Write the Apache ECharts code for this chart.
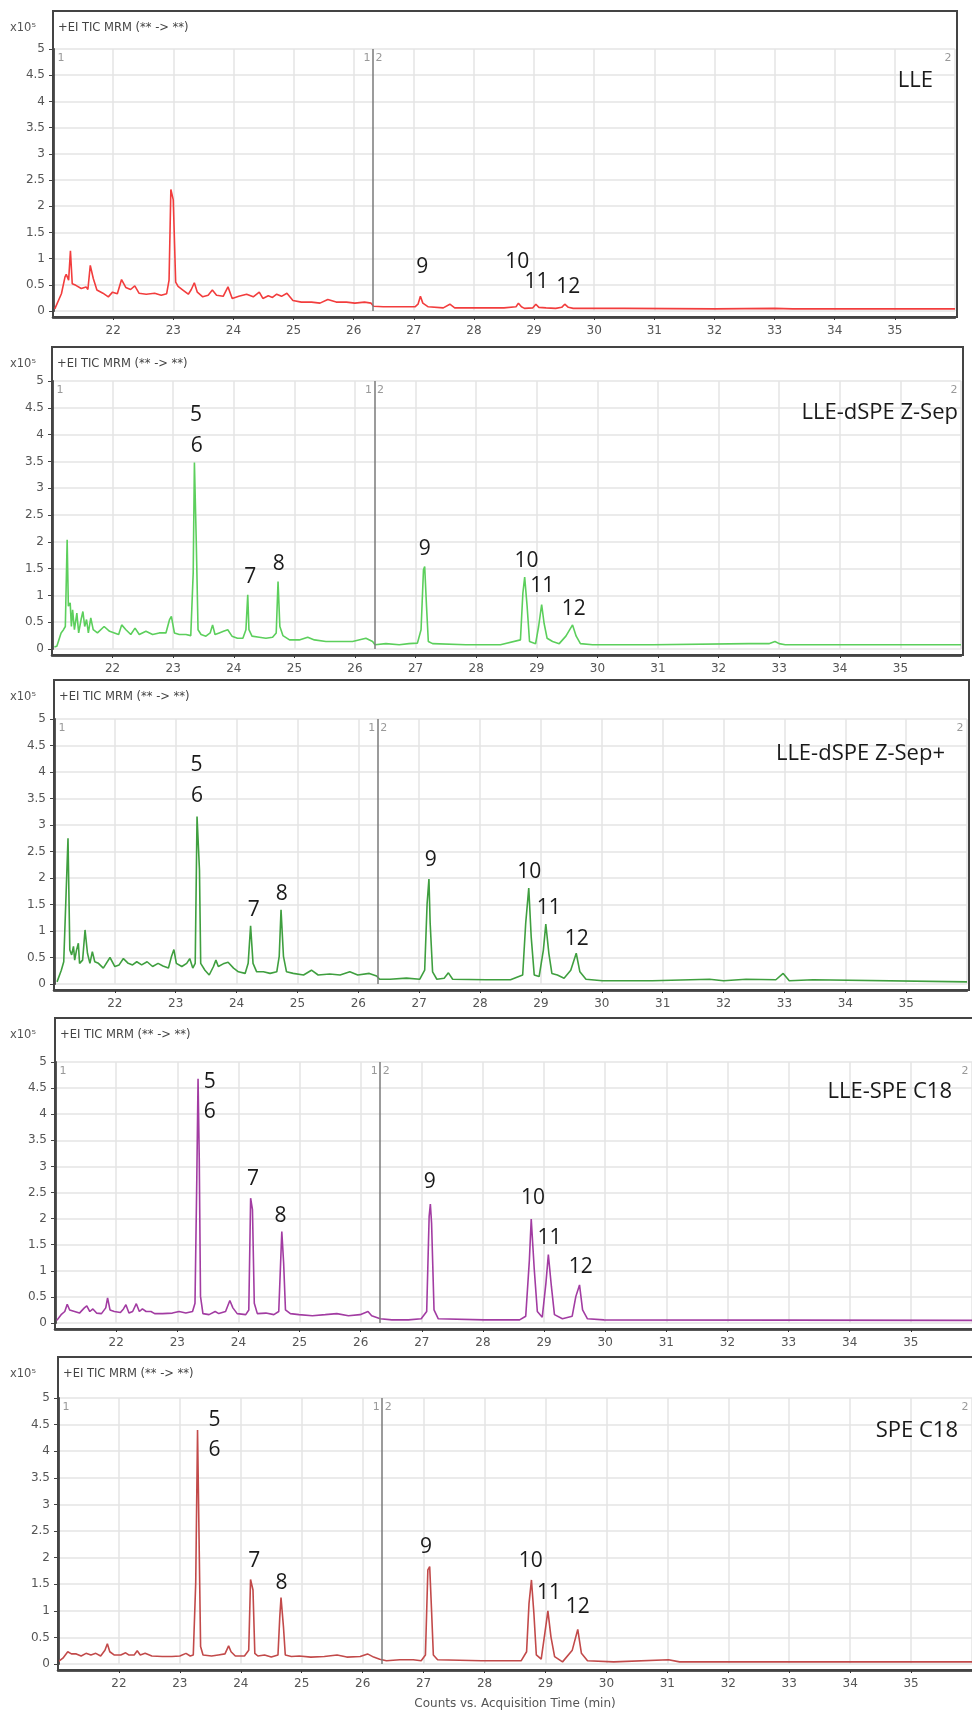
<!DOCTYPE html>
<html>
<head>
<meta charset="utf-8">
<script src="https://cdn.jsdelivr.net/npm/echarts@6/dist/echarts.min.js"></script>
<style>
  html, body { margin: 0; padding: 0; background: #fff; }
  #chart { width: 972px; height: 1713px; }
</style>
</head>
<body>
<div id="chart"></div>
<script>
// Trazas TIC (tiempo en min, cuentas x10^5)
const lleTrace = [[21.03,0.04],[21.06,0.05],[21.14,0.33],[21.20,0.65],[21.22,0.70],[21.26,0.59],[21.29,1.15],[21.32,0.52],[21.38,0.49],[21.47,0.43],[21.55,0.46],[21.58,0.41],[21.62,0.87],[21.67,0.62],[21.73,0.40],[21.83,0.34],[21.92,0.27],[21.99,0.36],[22.07,0.33],[22.14,0.60],[22.21,0.45],[22.29,0.41],[22.36,0.48],[22.43,0.34],[22.55,0.32],[22.69,0.34],[22.80,0.30],[22.89,0.33],[22.93,0.59],[22.96,2.32],[23.00,2.12],[23.04,0.55],[23.08,0.47],[23.16,0.40],[23.25,0.32],[23.30,0.41],[23.35,0.54],[23.40,0.36],[23.49,0.27],[23.58,0.30],[23.65,0.40],[23.72,0.30],[23.83,0.28],[23.91,0.46],[23.98,0.24],[24.09,0.28],[24.22,0.32],[24.33,0.27],[24.43,0.36],[24.49,0.24],[24.58,0.29],[24.65,0.26],[24.72,0.32],[24.80,0.28],[24.89,0.34],[24.99,0.20],[25.13,0.17],[25.30,0.17],[25.44,0.15],[25.57,0.22],[25.71,0.17],[25.88,0.17],[26.02,0.15],[26.18,0.17],[26.29,0.15],[26.33,0.09],[26.49,0.08],[26.77,0.08],[27.02,0.08],[27.07,0.13],[27.11,0.28],[27.15,0.15],[27.24,0.08],[27.49,0.06],[27.60,0.13],[27.68,0.06],[28.15,0.06],[28.50,0.06],[28.70,0.08],[28.74,0.15],[28.79,0.08],[28.84,0.05],[28.98,0.06],[29.03,0.13],[29.08,0.07],[29.20,0.06],[29.36,0.05],[29.46,0.07],[29.51,0.13],[29.57,0.07],[29.65,0.05],[30.50,0.05],[32.00,0.04],[33.00,0.05],[33.30,0.04],[34.50,0.04],[36.00,0.04]];

const zsepTrace = [[21.04,0.04],[21.08,0.05],[21.15,0.30],[21.19,0.36],[21.22,0.42],[21.25,2.04],[21.27,0.80],[21.30,0.86],[21.32,0.42],[21.34,0.73],[21.37,0.36],[21.41,0.67],[21.44,0.30],[21.48,0.55],[21.51,0.70],[21.54,0.42],[21.57,0.55],[21.60,0.30],[21.64,0.58],[21.68,0.36],[21.75,0.30],[21.86,0.42],[21.95,0.33],[22.03,0.30],[22.10,0.27],[22.15,0.45],[22.22,0.36],[22.30,0.27],[22.37,0.39],[22.44,0.27],[22.55,0.33],[22.66,0.27],[22.77,0.30],[22.88,0.30],[22.94,0.55],[22.97,0.61],[23.02,0.30],[23.10,0.27],[23.21,0.27],[23.29,0.25],[23.33,1.42],[23.35,3.48],[23.38,2.04],[23.41,0.36],[23.46,0.27],[23.54,0.24],[23.61,0.30],[23.65,0.45],[23.69,0.27],[23.76,0.30],[23.83,0.33],[23.90,0.36],[23.97,0.24],[24.06,0.20],[24.15,0.20],[24.20,0.36],[24.23,1.01],[24.25,0.36],[24.30,0.24],[24.42,0.22],[24.53,0.20],[24.64,0.22],[24.70,0.30],[24.73,1.26],[24.76,0.42],[24.81,0.25],[24.92,0.17],[25.08,0.17],[25.22,0.22],[25.33,0.17],[25.52,0.14],[25.74,0.14],[25.96,0.14],[26.18,0.20],[26.29,0.14],[26.33,0.08],[26.51,0.10],[26.73,0.08],[26.89,0.10],[27.03,0.11],[27.09,0.36],[27.13,1.48],[27.15,1.54],[27.18,0.80],[27.21,0.14],[27.28,0.10],[27.83,0.08],[28.40,0.08],[28.73,0.17],[28.77,1.04],[28.80,1.34],[28.84,0.80],[28.88,0.14],[28.98,0.10],[29.03,0.42],[29.08,0.83],[29.12,0.48],[29.17,0.20],[29.26,0.14],[29.37,0.10],[29.48,0.24],[29.59,0.45],[29.65,0.24],[29.72,0.10],[29.92,0.08],[30.91,0.08],[32.50,0.10],[32.83,0.10],[32.93,0.14],[33.00,0.10],[33.10,0.08],[36.00,0.08]];

const zsepPlusTrace = [[21.05,0.04],[21.12,0.26],[21.16,0.42],[21.19,0.40],[21.23,2.75],[21.26,0.64],[21.29,0.55],[21.32,0.71],[21.34,0.45],[21.37,0.64],[21.40,0.77],[21.42,0.39],[21.47,0.45],[21.51,1.02],[21.55,0.58],[21.59,0.39],[21.63,0.61],[21.67,0.42],[21.73,0.39],[21.81,0.30],[21.92,0.50],[22.00,0.33],[22.07,0.36],[22.14,0.48],[22.22,0.39],[22.29,0.36],[22.36,0.42],[22.44,0.36],[22.53,0.42],[22.62,0.33],[22.71,0.39],[22.79,0.34],[22.88,0.30],[22.93,0.52],[22.97,0.65],[23.01,0.39],[23.10,0.33],[23.18,0.39],[23.23,0.48],[23.28,0.30],[23.32,0.39],[23.35,3.16],[23.39,2.15],[23.41,0.39],[23.48,0.26],[23.55,0.17],[23.62,0.33],[23.66,0.45],[23.70,0.33],[23.78,0.38],[23.86,0.41],[23.95,0.30],[24.03,0.23],[24.14,0.20],[24.19,0.39],[24.23,1.10],[24.27,0.39],[24.33,0.23],[24.44,0.23],[24.55,0.20],[24.66,0.23],[24.70,0.52],[24.73,1.40],[24.77,0.52],[24.82,0.23],[24.93,0.20],[25.10,0.17],[25.23,0.26],[25.34,0.17],[25.53,0.19],[25.70,0.17],[25.86,0.23],[25.99,0.17],[26.18,0.20],[26.30,0.15],[26.35,0.09],[26.52,0.09],[26.79,0.11],[27.01,0.09],[27.09,0.26],[27.13,1.52],[27.16,1.98],[27.18,1.15],[27.22,0.23],[27.29,0.09],[27.41,0.11],[27.48,0.21],[27.55,0.09],[28.10,0.08],[28.50,0.08],[28.70,0.17],[28.75,1.15],[28.80,1.81],[28.84,0.89],[28.89,0.17],[28.97,0.14],[29.04,0.64],[29.08,1.13],[29.13,0.58],[29.18,0.20],[29.27,0.17],[29.38,0.11],[29.49,0.26],[29.58,0.58],[29.64,0.23],[29.74,0.09],[30.01,0.06],[30.83,0.06],[31.77,0.09],[32.00,0.06],[32.37,0.09],[32.86,0.08],[32.98,0.20],[33.08,0.06],[33.47,0.08],[36.00,0.04]];

const lleSpeTrace = [[21.03,0.05],[21.10,0.16],[21.16,0.22],[21.20,0.36],[21.24,0.25],[21.32,0.22],[21.40,0.19],[21.48,0.29],[21.52,0.33],[21.57,0.22],[21.62,0.27],[21.68,0.19],[21.76,0.18],[21.83,0.29],[21.86,0.48],[21.90,0.25],[21.97,0.22],[22.07,0.20],[22.12,0.27],[22.16,0.35],[22.21,0.19],[22.27,0.22],[22.33,0.37],[22.38,0.22],[22.43,0.27],[22.49,0.22],[22.57,0.22],[22.63,0.18],[22.76,0.18],[22.92,0.19],[23.03,0.22],[23.14,0.19],[23.25,0.22],[23.29,0.38],[23.32,2.80],[23.34,4.68],[23.36,3.12],[23.38,0.51],[23.42,0.18],[23.52,0.16],[23.62,0.22],[23.68,0.18],[23.79,0.22],[23.86,0.43],[23.91,0.29],[23.98,0.18],[24.12,0.16],[24.17,0.25],[24.20,2.39],[24.23,2.17],[24.26,0.38],[24.31,0.18],[24.45,0.19],[24.58,0.16],[24.66,0.22],[24.71,1.75],[24.74,1.15],[24.77,0.25],[24.85,0.18],[24.99,0.16],[25.21,0.14],[25.42,0.16],[25.61,0.18],[25.80,0.14],[25.99,0.16],[26.12,0.22],[26.18,0.14],[26.32,0.08],[26.51,0.06],[26.78,0.06],[26.99,0.08],[27.08,0.22],[27.12,2.04],[27.14,2.28],[27.16,1.91],[27.20,0.25],[27.27,0.08],[28.02,0.06],[28.60,0.06],[28.70,0.13],[28.76,1.21],[28.79,1.99],[28.84,1.02],[28.89,0.22],[28.97,0.11],[29.03,0.76],[29.07,1.31],[29.12,0.70],[29.17,0.16],[29.30,0.08],[29.46,0.13],[29.52,0.51],[29.58,0.73],[29.63,0.25],[29.71,0.08],[29.98,0.06],[36.00,0.05]];

const speC18Trace = [[21.00,0.04],[21.08,0.11],[21.16,0.23],[21.22,0.19],[21.30,0.19],[21.38,0.15],[21.46,0.20],[21.54,0.17],[21.62,0.20],[21.70,0.15],[21.77,0.26],[21.81,0.38],[21.85,0.23],[21.92,0.17],[22.03,0.17],[22.11,0.21],[22.16,0.17],[22.25,0.17],[22.30,0.25],[22.35,0.17],[22.43,0.20],[22.54,0.15],[22.71,0.14],[22.87,0.14],[23.00,0.15],[23.10,0.20],[23.17,0.15],[23.22,0.17],[23.26,1.52],[23.29,4.40],[23.31,2.77],[23.34,0.33],[23.38,0.17],[23.52,0.15],[23.63,0.17],[23.74,0.19],[23.80,0.34],[23.84,0.23],[23.91,0.15],[24.06,0.15],[24.13,0.26],[24.16,1.59],[24.20,1.39],[24.23,0.20],[24.28,0.15],[24.39,0.17],[24.50,0.13],[24.61,0.17],[24.64,0.89],[24.66,1.25],[24.70,0.70],[24.73,0.17],[24.83,0.14],[24.96,0.15],[25.15,0.13],[25.37,0.14],[25.58,0.17],[25.74,0.13],[25.96,0.14],[26.08,0.19],[26.18,0.13],[26.28,0.09],[26.39,0.06],[26.61,0.08],[26.83,0.08],[26.96,0.06],[27.03,0.17],[27.07,1.77],[27.10,1.83],[27.13,1.02],[27.16,0.17],[27.23,0.08],[27.95,0.06],[28.60,0.06],[28.69,0.23],[28.73,1.14],[28.77,1.58],[28.81,0.95],[28.85,0.17],[28.93,0.09],[28.99,0.58],[29.04,1.00],[29.09,0.51],[29.15,0.14],[29.28,0.04],[29.44,0.26],[29.53,0.65],[29.59,0.20],[29.69,0.06],[30.12,0.04],[31.02,0.08],[31.20,0.04],[36.00,0.04]];

// Etiquetas de picos: [texto, tiempo, altura]
const llePeaks = [['9',27.14,0.84],['10',28.72,0.94],['11',29.04,0.55],['12',29.57,0.45]];
const zsepPeaks = [['5',23.375,4.37],['6',23.39,3.79],['7',24.27,1.34],['8',24.74,1.59],['9',27.15,1.86],['10',28.83,1.65],['11',29.09,1.17],['12',29.61,0.75]];
const zsepPlusPeaks = [['5',23.34,4.14],['6',23.35,3.55],['7',24.28,1.39],['8',24.74,1.70],['9',27.19,2.34],['10',28.81,2.12],['11',29.13,1.43],['12',29.59,0.84]];
const lleSpePeaks = [['5',23.53,4.62],['6',23.53,4.04],['7',24.24,2.75],['8',24.69,2.05],['9',27.13,2.71],['10',28.82,2.39],['11',29.09,1.62],['12',29.60,1.08]];
const speC18Peaks = [['5',23.57,4.59],['6',23.57,4.02],['7',24.22,1.93],['8',24.67,1.52],['9',27.04,2.20],['10',28.76,1.93],['11',29.06,1.33],['12',29.53,1.07]];

const sampleNames = ['LLE', 'LLE-dSPE Z-Sep', 'LLE-dSPE Z-Sep+', 'LLE-SPE C18', 'SPE C18'];
const traces = [lleTrace, zsepTrace, zsepPlusTrace, lleSpeTrace, speC18Trace];
const peaks = [llePeaks, zsepPeaks, zsepPlusPeaks, lleSpePeaks, speC18Peaks];
const headerText = '+EI TIC MRM (** -> **)';
const segmentTime = 26.32;
const xAxisTitle = 'Counts vs. Acquisition Time (min)';

// Posición de cada panel en la página
const panels = [
    { left: 53, width: 902, top: 49, height: 262, frameTop: 11, frameRight: 957, nameRight: 39, nameTop: 70, color: '#f23d3d' },
    { left: 52, width: 909, top: 381, height: 268, frameTop: 347, frameRight: 963, nameRight: 14, nameTop: 402, color: '#5ccf5c' },
    { left: 54, width: 913, top: 719, height: 265, frameTop: 680, frameRight: 969, nameRight: 27, nameTop: 743, color: '#3f9f3f' },
    { left: 55, width: 920, top: 1062, height: 261, frameTop: 1018, frameRight: 978, nameRight: 20, nameTop: 1081, color: '#a23ca2' },
    { left: 58, width: 922, top: 1398, height: 266, frameTop: 1357, frameRight: 982, nameRight: 14, nameTop: 1420, color: '#c24a4a' }
];

const grids = [], xAxes = [], yAxes = [], series = [], titles = [], graphics = [];
const gridColor = '#e4e4e4';

panels.forEach(function (p, i) {
    grids.push({ left: p.left, top: p.top, width: p.width, height: p.height });

    xAxes.push({
        type: 'value', gridIndex: i, min: 21, max: 36, interval: 1, offset: 6,
        axisLine: { show: true, onZero: false, lineStyle: { color: '#222', width: 2.5 } },
        axisTick: { show: true, length: 3, lineStyle: { color: '#333' } },
        axisLabel: { showMinLabel: false, showMaxLabel: false, color: '#555', fontSize: 12, margin: 8, fontFamily: 'DejaVu Sans' },
        splitLine: { show: true, lineStyle: { color: gridColor, width: 1.5 } },
        name: i === 4 ? xAxisTitle : '',
        nameLocation: 'middle', nameGap: 28,
        nameTextStyle: { color: '#555', fontSize: 12, fontFamily: 'DejaVu Sans' }
    });

    yAxes.push({
        type: 'value', gridIndex: i, min: 0, max: 5, interval: 0.5,
        axisLine: { show: true, onZero: false, lineStyle: { color: '#222', width: 2.5 } },
        axisTick: { show: true, length: 4, lineStyle: { color: '#444' } },
        axisLabel: { color: '#555', fontSize: 12, margin: 8, fontFamily: 'DejaVu Sans' },
        splitLine: { show: true, lineStyle: { color: gridColor, width: 1.5 } }
    });

    const segLabel = { show: true, color: '#999', fontSize: 11, fontFamily: 'DejaVu Sans' };
    const marks = peaks[i].map(function (pk) {
        return { name: pk[0], coord: [pk[1], pk[2]] };
    });
    marks.push({ name: '1', coord: [segmentTime, 5], label: Object.assign({ offset: [-6, 9] }, segLabel) });
    marks.push({ name: '2', coord: [segmentTime, 5], label: Object.assign({ offset: [6, 9] }, segLabel) });
    marks.push({ name: '1', coord: [21, 5], label: Object.assign({ offset: [8, 9] }, segLabel) });
    marks.push({ name: '2', coord: [36, 5], label: Object.assign({ offset: [-7, 9] }, segLabel) });

    series.push({
        type: 'line', xAxisIndex: i, yAxisIndex: i, data: traces[i],
        symbol: 'none', showSymbol: false, clip: false, animation: false,
        lineStyle: { color: p.color, width: 1.6 },
        markLine: {
            silent: true, symbol: ['none', 'none'], animation: false,
            label: { show: false },
            lineStyle: { color: '#7a7a7a', width: 1.5, type: 'solid' },
            data: [[{ coord: [segmentTime, 5] }, { coord: [segmentTime, 0] }]]
        },
        markPoint: {
            silent: true, symbol: 'rect', symbolSize: 1, animation: false,
            itemStyle: { color: 'rgba(0,0,0,0)' },
            label: { show: true, position: 'inside', formatter: '{b}', color: '#1a1a1a', fontSize: 21, fontFamily: 'Open Sans' },
            data: marks
        }
    });

    titles.push({
        text: headerText, left: p.left + 5, top: p.frameTop + 11, padding: 0,
        textStyle: { fontSize: 11.5, color: '#444', fontWeight: 'normal', fontFamily: 'DejaVu Sans' }
    });
    titles.push({
        text: 'x10⁵', left: 10, top: p.frameTop + 11, padding: 0,
        textStyle: { fontSize: 11.5, color: '#555', fontWeight: 'normal', fontFamily: 'DejaVu Sans' }
    });
    titles.push({
        text: sampleNames[i], right: p.nameRight, top: p.nameTop, padding: 0,
        textStyle: { fontSize: 22, color: '#1a1a1a', fontWeight: 'normal', fontFamily: 'Open Sans' }
    });

    // Marco del panel
    graphics.push({
        type: 'rect', silent: true, z: 10,
        shape: { x: p.left, y: p.frameTop, width: p.frameRight - p.left, height: p.top + p.height + 6 - p.frameTop },
        style: { fill: 'none', stroke: '#444', lineWidth: 2 }
    });
});

const chart = echarts.init(document.getElementById('chart'));
chart.setOption({
    backgroundColor: '#fff',
    animation: false,
    title: titles,
    grid: grids,
    xAxis: xAxes,
    yAxis: yAxes,
    series: series,
    graphic: graphics
});
</script>
</body>
</html>
